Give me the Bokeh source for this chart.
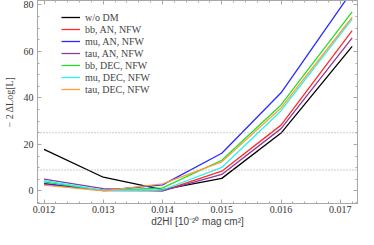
from bokeh.plotting import figure
from bokeh.models import (Span, Legend, LegendItem, LinearAxis, Range1d, FixedTicker,
                          CustomJSTickFormatter)
from bokeh.embed import file_html
from bokeh.resources import INLINE

# ---- data ----
d2hi = [0.012, 0.013, 0.014, 0.015, 0.016, 0.0172]
wo_dm       = [17.9, 5.9, 0.6, 5.4, 24.9, 62.2]
bb_an_nfw   = [2.8, 0.2, 0.0, 8.5, 28.3, 68.9]
mu_an_nfw   = [3.2, 0.2, 2.6, 16.2, 42.2, 86.0]
tau_an_nfw  = [5.1, 1.0, 0.0, 7.1, 26.8, 65.8]
bb_dec_nfw  = [3.9, 0.1, 1.3, 13.2, 37.0, 77.0]
mu_dec_nfw  = [4.4, 0.2, 0.4, 10.1, 34.5, 73.9]
tau_dec_nfw = [2.5, 0.0, 3.0, 12.5, 35.7, 74.7]
thresholds = [9, 25]
x_ticks = [0.012, 0.013, 0.014, 0.015, 0.016, 0.017]
y_ticks = [0, 20, 40, 60, 80]
x_minor = [round(0.0118 + 0.0002 * i, 5) for i in range(29)]
y_minor = list(range(-5, 85, 5))

series = [
    ("w/o DM", wo_dm, "#000000"),
    ("bb, AN, NFW", bb_an_nfw, "#FF2A2A"),
    ("mu, AN, NFW", mu_an_nfw, "#2A2AFF"),
    ("tau, AN, NFW", tau_an_nfw, "#8E3A9E"),
    ("bb, DEC, NFW", bb_dec_nfw, "#22E022"),
    ("mu, DEC, NFW", mu_dec_nfw, "#2AF2F2"),
    ("tau, DEC, NFW", tau_dec_nfw, "#FF9A40"),
]

p = figure(width=358, height=229, output_backend="svg", toolbar_location=None,
           x_range=Range1d(0.01189, 0.01729), y_range=Range1d(-5.4, 81.9),
           min_border_left=37, min_border_right=1, min_border_top=0, min_border_bottom=10)
p.background_fill_color = "white"
p.border_fill_color = "white"
p.outline_line_color = "#B0B0B0"
p.grid.visible = False

frame_col = "#A8A8A8"
serif = "Liberation Serif"

def style_axis(ax, labels=True):
    ax.axis_line_color = frame_col
    ax.major_tick_line_color = frame_col
    ax.minor_tick_line_color = frame_col
    ax.major_tick_in = 4
    ax.major_tick_out = 0
    ax.minor_tick_in = 2
    ax.minor_tick_out = 0
    ax.major_label_text_font = serif
    ax.major_label_text_font_size = "10px"
    ax.major_label_text_color = "#333333"
    ax.major_label_standoff = 2 if labels else 0
    if not labels:
        ax.formatter = CustomJSTickFormatter(code="return ''")

xb = p.below[0]
yl = p.left[0]
xb.ticker = FixedTicker(ticks=x_ticks, minor_ticks=x_minor)
yl.ticker = FixedTicker(ticks=y_ticks, minor_ticks=y_minor)
style_axis(xb)
style_axis(yl)
yl.major_label_standoff = 4
xb.major_label_overrides = {t: f"{t:.3f}" for t in x_ticks}

right = LinearAxis(ticker=FixedTicker(ticks=y_ticks, minor_ticks=y_minor))
top = LinearAxis(ticker=FixedTicker(ticks=x_ticks, minor_ticks=x_minor))
style_axis(right, labels=False)
style_axis(top, labels=False)
p.add_layout(right, "right")
p.add_layout(top, "above")

xb.axis_label = "d2HI [10\u207b\u00b2\u2070 mag cm\u00b2]"
xb.axis_label_text_font = "Liberation Sans"
xb.axis_label_text_font_style = "normal"
xb.axis_label_text_font_size = "10px"
xb.axis_label_standoff = 0
yl.axis_label = "\u2212 2 \u0394Log[L]"
yl.axis_label_text_font = serif
yl.axis_label_text_font_style = "normal"
yl.axis_label_text_font_size = "10px"
yl.axis_label_standoff = 6

for t in thresholds:
    p.add_layout(Span(location=t, dimension="width", line_color="#999999",
                      line_width=1, line_dash="1 2"))

items = []
for name, ys, col in series:
    r = p.line(d2hi, ys, line_color=col, line_width=1.3)
    items.append(LegendItem(label=name, renderers=[r]))

legend = Legend(items=items, location=(24, 108), padding=0, margin=0, spacing=0,
                label_height=12, glyph_height=12, glyph_width=19, label_standoff=5,
                label_text_font=serif, label_text_font_size="10px",
                background_fill_alpha=0, border_line_alpha=0)
p.add_layout(legend, "center")

open("out.html", "w").write(file_html(p, INLINE))
